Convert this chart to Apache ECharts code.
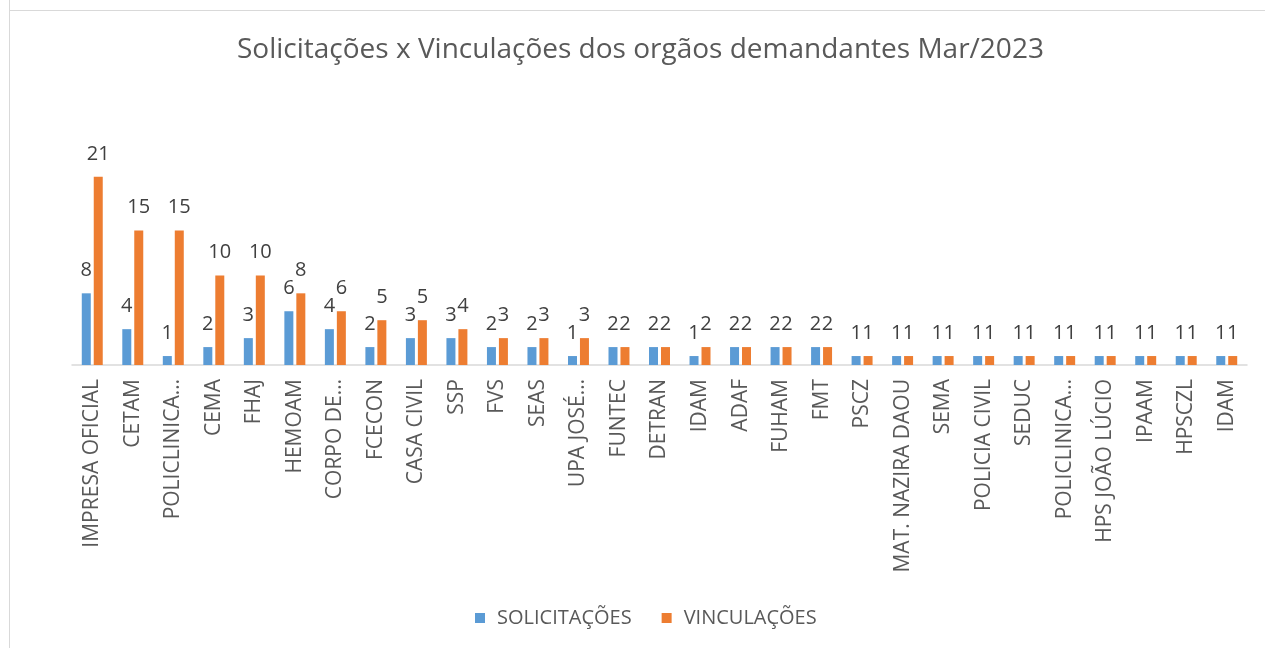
<!DOCTYPE html>
<html>
<head>
<meta charset="utf-8">
<script src="https://cdn.jsdelivr.net/npm/echarts@6/dist/echarts.min.js"></script>
<style>html,body{margin:0;padding:0;background:#fff;}#c{width:1265px;height:648px;}</style>
</head>
<body>
<div id="c"></div>
<script>
const categories = ["IMPRESA OFICIAL","CETAM","POLICLINICA…","CEMA","FHAJ","HEMOAM","CORPO DE…","FCECON","CASA CIVIL","SSP","FVS","SEAS","UPA JOSÉ…","FUNTEC","DETRAN","IDAM","ADAF","FUHAM","FMT","PSCZ","MAT. NAZIRA DAOU","SEMA","POLICIA CIVIL","SEDUC","POLICLINICA…","HPS JOÃO LÚCIO","IPAAM","HPSCZL","IDAM"];
const solicitacoes = [8,4,1,2,3,6,4,2,3,3,2,2,1,2,2,1,2,2,2,1,1,1,1,1,1,1,1,1,1];
const vinculacoes = [21,15,15,10,10,8,6,5,5,4,3,3,3,2,2,2,2,2,2,1,1,1,1,1,1,1,1,1,1];
const titleText = "Solicitações x Vinculações dos orgãos demandantes Mar/2023";
const seriesNames = ["SOLICITAÇÕES","VINCULAÇÕES"];

const FONT = "'Open Sans', sans-serif";
const chart = echarts.init(document.getElementById('c'));
const labelCfg = {show:true, position:'top', distance:13, color:'#404040', fontSize:20, fontFamily:FONT};
chart.setOption({
  animation:false,
  backgroundColor:'#fff',
  graphic:[
    {type:'line', shape:{x1:9.5,y1:0,x2:9.5,y2:648}, style:{stroke:'#d9d9d9',lineWidth:1}},
    {type:'line', shape:{x1:9,y1:10.5,x2:1265,y2:10.5}, style:{stroke:'#d9d9d9',lineWidth:1}}
  ],
  title:{text:titleText, left:232, top:31, textStyle:{fontFamily:FONT, fontSize:28, fontWeight:'normal', color:'#595959'}},
  legend:{bottom:15, left:470, itemWidth:10, itemHeight:10, itemGap:30, icon:'rect',
    textStyle:{fontFamily:FONT, fontSize:20, color:'#595959', padding:[0,0,0,7]}},
  grid:{left:72, right:18, top:141, bottom:283, containLabel:false},
  xAxis:{type:'category', data:categories,
    axisLine:{lineStyle:{color:'#d9d9d9', width:1.5}}, axisTick:{show:false},
    axisLabel:{rotate:90, interval:0, color:'#595959', fontSize:21, fontFamily:FONT, margin:14}},
  yAxis:{type:'value', min:0, max:25, show:false, splitLine:{show:false}},
  series:[
    {name:seriesNames[0], type:'bar', data:solicitacoes, barWidth:9, barGap:'33%', itemStyle:{color:'#5b9bd5'}, label:labelCfg},
    {name:seriesNames[1], type:'bar', data:vinculacoes, barWidth:9, itemStyle:{color:'#ed7d31'}, label:labelCfg}
  ]
});
</script>
</body>
</html>
